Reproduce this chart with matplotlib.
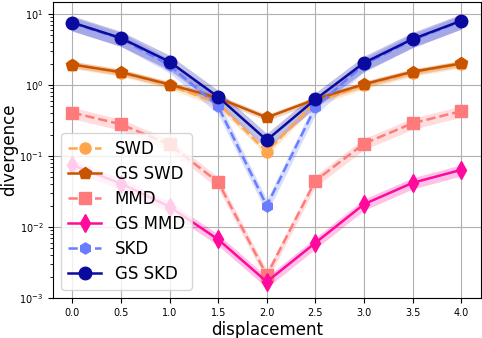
import matplotlib
matplotlib.use("Agg")
import matplotlib.pyplot as plt
import numpy as np

displacement = [0.0, 0.5, 1.0, 1.5, 2.0, 2.5, 3.0, 3.5, 4.0]

swd     = [1.95, 1.50, 1.00, 0.55, 0.115, 0.58, 1.00, 1.50, 1.98]
gs_swd  = [1.95, 1.52, 1.02, 0.66, 0.35, 0.63, 1.03, 1.54, 2.02]
mmd     = [0.41, 0.28, 0.146, 0.043, 0.0021, 0.045, 0.15, 0.29, 0.43]
gs_mmd  = [0.075, 0.041, 0.0194, 0.0067, 0.0017, 0.006, 0.021, 0.042, 0.064]
skd     = [7.4, 4.5, 1.9, 0.50, 0.020, 0.49, 1.95, 4.3, 7.9]
gs_skd  = [7.6, 4.6, 2.13, 0.68, 0.168, 0.63, 2.06, 4.45, 8.05]

# relative half-width of the shaded bands
spread = {"SWD": 0.12, "GS SWD": 0.10, "MMD": 0.18, "GS MMD": 0.18,
          "SKD": 0.22, "GS SKD": 0.24}

series = [
    ("SWD", swd, "#ffa64d", "o", "--", 8),
    ("GS SWD", gs_swd, "#c85400", "p", "-", 9),
    ("MMD", mmd, "#ff7b7b", "s", "--", 9),
    ("GS MMD", gs_mmd, "#ff0a9c", "d", "-", 9),
    ("SKD", skd, "#6a7dff", "h", "--", 8),
    ("GS SKD", gs_skd, "#0a0a9e", "o", "-", 9),
]

fig = plt.figure(figsize=(4.82, 3.38), dpi=100)
ax = fig.add_axes([0.110, 0.118, 0.887, 0.876])

x = np.array(displacement)
for name, vals, col, mk, ls, ms in series:
    v = np.array(vals)
    s = spread[name]
    ax.fill_between(x, v * (1 - s), v * (1 + s), color=col, alpha=0.25, lw=0)
    ax.plot(x, v, color=col, marker=mk, ls=ls, lw=1.8, ms=ms, label=name)

ax.set_yscale("log")
ax.set_ylim(1e-3, 14.8)
ax.set_xlim(-0.2, 4.2)
ax.set_xticks(displacement)
ax.grid(True, which="major", color="#b0b0b0", lw=0.8)
ax.set_axisbelow(True)
ax.tick_params(axis="both", which="major", labelsize=7)
ax.set_xlabel("displacement", fontsize=12, labelpad=2)
ax.set_ylabel("divergence", fontsize=12, labelpad=1)
ax.legend(loc="lower left", fontsize=12, labelspacing=0.42)

fig.savefig("out.png", dpi=100)
